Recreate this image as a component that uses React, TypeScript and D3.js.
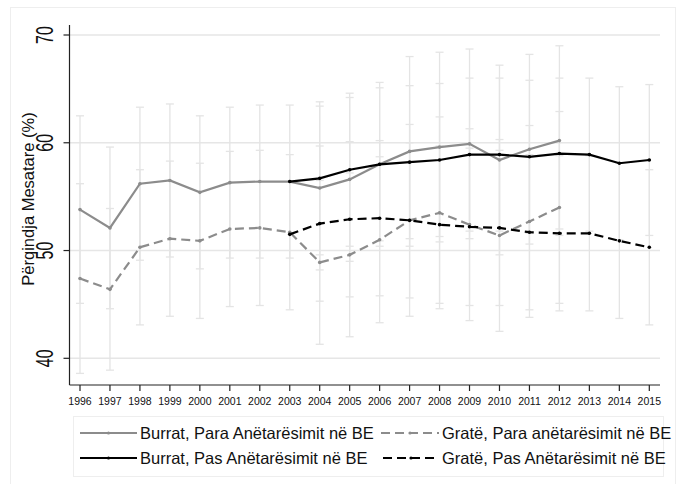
import React, { useRef, useEffect } from "react";
import * as d3 from "d3";

// years on the x axis
const years = [
    1996, 1997, 1998, 1999, 2000, 2001, 2002, 2003, 2004, 2005,
    2006, 2007, 2008, 2009, 2010, 2011, 2012, 2013, 2014, 2015,
];

// means (null = no observation)
const burratPara = [
    53.8, 52.1, 56.2, 56.5, 55.4, 56.3, 56.4, 56.4, 55.8, 56.6,
    58.0, 59.2, 59.6, 59.9, 58.4, 59.4, 60.2, null, null, null,
];
const gratePara = [
    47.4, 46.4, 50.3, 51.1, 50.9, 52.0, 52.1, 51.7, 48.9, 49.6,
    51.0, 52.8, 53.5, 52.4, 51.4, 52.7, 54.0, null, null, null,
];
const burratPas = [
    null, null, null, null, null, null, null, 56.4, 56.7, 57.5,
    58.0, 58.2, 58.4, 58.9, 58.9, 58.7, 59.0, 58.9, 58.1, 58.4,
];
const gratePas = [
    null, null, null, null, null, null, null, 51.5, 52.5, 52.9,
    53.0, 52.8, 52.4, 52.2, 52.1, 51.7, 51.6, 51.6, 50.9, 50.3,
];

// half width of the confidence intervals
const ciBurratPara = [
    8.7, 7.5, 7.1, 7.1, 7.1, 7.0, 7.1, 7.1, 7.6, 7.6,
    7.6, 8.8, 8.8, 8.8, 8.8, 8.8, 8.8, null, null, null,
];
const ciGratePara = [
    8.8, 7.5, 7.2, 7.2, 7.2, 7.2, 7.2, 7.2, 7.6, 7.6,
    7.7, 8.9, 8.9, 8.9, 8.9, 8.9, 8.9, null, null, null,
];
const ciBurratPas = [
    null, null, null, null, null, null, null, null, 7.1, 7.1,
    7.1, 7.1, 7.1, 7.1, 7.1, 7.1, 7.0, 7.1, 7.1, 7.0,
];
const ciGratePas = [
    null, null, null, null, null, null, null, null, 7.2, 7.2,
    7.2, 7.2, 7.3, 7.3, 7.2, 7.2, 7.2, 7.2, 7.2, 7.2,
];

const yTicks = [40, 50, 60, 70];

const legendLabels = [
    "Burrat, Para Anëtarësimit në BE",
    "Gratë, Para anëtarësimit në BE",
    "Burrat, Pas Anëtarësimit në BE",
    "Gratë, Pas Anëtarësimit në BE",
];

const GRAY = "#8c8c8c";
const FONT = "Liberation Sans, Arial, sans-serif";

export const Chart = () => {
    const svgRef = useRef<SVGSVGElement>(null);

    useEffect(() => {
        if (!svgRef.current) return;
        document.body.style.margin = "0";

        const svg = d3.select(svgRef.current);
        svg.selectAll("*").remove();

        const width = 677;
        const height = 484;
        const plot = { left: 69.5, right: 660, top: 25, bottom: 385 };

        const x = d3.scaleLinear().domain([1996, 2015]).range([80, 649.3]);
        const y = d3.scaleLinear().domain([40, 70]).range([358.3, 35]);

        // faint graph region border
        svg.append("rect")
            .attr("x", 10.5)
            .attr("y", 7.5)
            .attr("width", 665)
            .attr("height", 500)
            .attr("fill", "none")
            .attr("stroke", "#eeeeee")
            .attr("stroke-width", 1);

        // gridlines
        svg.append("g")
            .selectAll("line")
            .data(yTicks)
            .join("line")
            .attr("x1", plot.left)
            .attr("x2", plot.right)
            .attr("y1", (d) => y(d))
            .attr("y2", (d) => y(d))
            .attr("stroke", "#e6e6e6")
            .attr("stroke-width", 1.6);

        // error bars
        const ciSets = [
            { mean: burratPara, ci: ciBurratPara },
            { mean: gratePara, ci: ciGratePara },
            { mean: burratPas, ci: ciBurratPas },
            { mean: gratePas, ci: ciGratePas },
        ];
        const bars: { yr: number; lo: number; hi: number }[] = [];
        ciSets.forEach((s) => {
            years.forEach((yr, i) => {
                const m = s.mean[i];
                const c = s.ci[i];
                if (m == null || c == null) return;
                bars.push({ yr, lo: m - c, hi: m + c });
            });
        });
        const eb = svg.append("g").attr("stroke", "#e4e4e4").attr("stroke-width", 1.3);
        eb.selectAll("line.v")
            .data(bars)
            .join("line")
            .attr("class", "v")
            .attr("x1", (d) => x(d.yr))
            .attr("x2", (d) => x(d.yr))
            .attr("y1", (d) => y(d.lo))
            .attr("y2", (d) => y(d.hi));
        const caps = bars.flatMap((d) => [
            { yr: d.yr, v: d.lo },
            { yr: d.yr, v: d.hi },
        ]);
        eb.selectAll("line.c")
            .data(caps)
            .join("line")
            .attr("class", "c")
            .attr("x1", (d) => x(d.yr) - 4)
            .attr("x2", (d) => x(d.yr) + 4)
            .attr("y1", (d) => y(d.v))
            .attr("y2", (d) => y(d.v));

        // axes
        const axisColor = "#222";
        svg.append("line")
            .attr("x1", plot.left)
            .attr("x2", plot.left)
            .attr("y1", plot.top)
            .attr("y2", plot.bottom)
            .attr("stroke", axisColor)
            .attr("stroke-width", 1.2);
        svg.append("line")
            .attr("x1", plot.left)
            .attr("x2", plot.right)
            .attr("y1", plot.bottom)
            .attr("y2", plot.bottom)
            .attr("stroke", axisColor)
            .attr("stroke-width", 1.2);

        svg.append("g")
            .selectAll("line")
            .data(yTicks)
            .join("line")
            .attr("x1", plot.left - 6)
            .attr("x2", plot.left)
            .attr("y1", (d) => y(d))
            .attr("y2", (d) => y(d))
            .attr("stroke", axisColor)
            .attr("stroke-width", 1.2);

        svg.append("g")
            .selectAll("text")
            .data(yTicks)
            .join("text")
            .attr("transform", (d) => `translate(53, ${y(d)}) rotate(-90) scale(1, 1.5)`)
            .attr("text-anchor", "middle")
            .attr("font-family", FONT)
            .attr("font-size", 16)
            .attr("fill", "#111")
            .text((d) => d);

        svg.append("g")
            .selectAll("line")
            .data(years)
            .join("line")
            .attr("x1", (d) => x(d))
            .attr("x2", (d) => x(d))
            .attr("y1", plot.bottom)
            .attr("y2", plot.bottom + 6)
            .attr("stroke", axisColor)
            .attr("stroke-width", 1.2);

        svg.append("g")
            .selectAll("text")
            .data(years)
            .join("text")
            .attr("x", (d) => x(d))
            .attr("y", 404.5)
            .attr("text-anchor", "middle")
            .attr("font-family", FONT)
            .attr("font-size", 10.5)
            .attr("fill", "#111")
            .text((d) => d);

        svg.append("text")
            .attr("transform", "translate(34, 199) rotate(-90)")
            .attr("text-anchor", "middle")
            .attr("font-family", FONT)
            .attr("font-size", 16.5)
            .attr("fill", "#111")
            .text("Përqindja Mesatare (%)");

        // series
        const series = [
            { data: gratePara, color: GRAY, dash: "9,5" },
            { data: burratPara, color: GRAY, dash: null },
            { data: gratePas, color: "#000", dash: "9,5" },
            { data: burratPas, color: "#000", dash: null },
        ];
        const line = d3
            .line<number | null>()
            .defined((d) => d != null)
            .x((d, i) => x(years[i]))
            .y((d) => y(d as number));

        series.forEach((s) => {
            svg.append("path")
                .datum(s.data)
                .attr("d", line)
                .attr("fill", "none")
                .attr("stroke", s.color)
                .attr("stroke-width", 2.2)
                .attr("stroke-dasharray", s.dash);
            const pts = years
                .map((yr, i) => ({ yr, v: s.data[i] }))
                .filter((p) => p.v != null);
            svg.append("g")
                .selectAll("circle")
                .data(pts)
                .join("circle")
                .attr("cx", (d) => x(d.yr))
                .attr("cy", (d) => y(d.v as number))
                .attr("r", 1.8)
                .attr("fill", s.color);
        });

        // legend
        const lg = svg.append("g");
        lg.append("rect")
            .attr("x", 73.5)
            .attr("y", 416.5)
            .attr("width", 590)
            .attr("height", 60)
            .attr("fill", "none")
            .attr("stroke", "#eeeeee");
        const legendItems = [
            { label: legendLabels[0], color: GRAY, dash: null, x0: 80, x1: 137, row: 0 },
            { label: legendLabels[1], color: GRAY, dash: "9,5", x0: 381, x1: 439, row: 0 },
            { label: legendLabels[2], color: "#000", dash: null, x0: 80, x1: 137, row: 1 },
            { label: legendLabels[3], color: "#000", dash: "9,5", x0: 383, x1: 439, row: 1 },
        ];
        legendItems.forEach((it) => {
            const ly = 433 + it.row * 25;
            lg.append("line")
                .attr("x1", it.x0)
                .attr("x2", it.x1)
                .attr("y1", ly)
                .attr("y2", ly)
                .attr("stroke", it.color)
                .attr("stroke-width", 2.2)
                .attr("stroke-dasharray", it.dash);
            lg.append("circle")
                .attr("cx", (it.x0 + it.x1) / 2)
                .attr("cy", ly)
                .attr("r", 1.6)
                .attr("fill", it.color);
            lg.append("text")
                .attr("x", it.x1 + 3)
                .attr("y", ly + 6)
                .attr("font-family", FONT)
                .attr("font-size", 16.5)
                .attr("fill", "#111")
                .text(it.label);
        });

        svg.attr("width", width).attr("height", height);
    }, []);

    return <svg ref={svgRef} style={{ display: "block", background: "#fff" }} />;
};

export default function App() {
    return <Chart />;
}
